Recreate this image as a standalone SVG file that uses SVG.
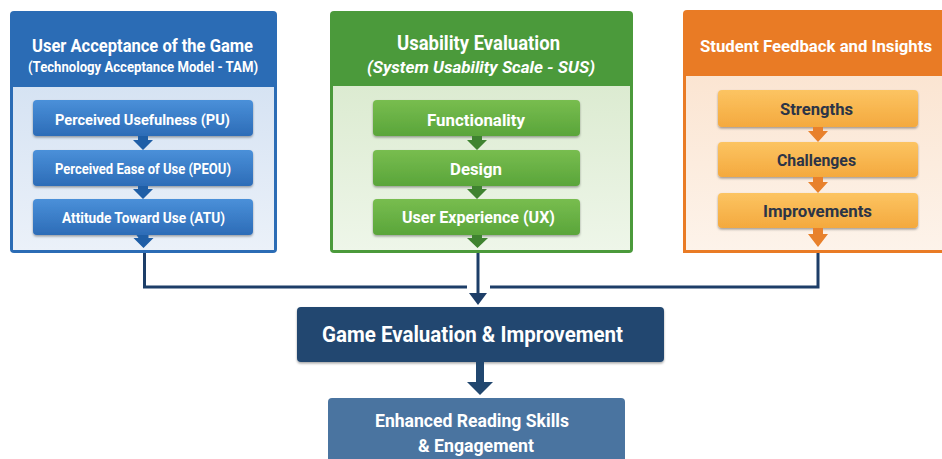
<svg xmlns="http://www.w3.org/2000/svg" width="942" height="459" viewBox="0 0 942 459">
  <defs>
    <linearGradient id="gBodyBlue" x1="0" y1="0" x2="0" y2="1">
      <stop offset="0" stop-color="#d6e3f3"/>
      <stop offset="1" stop-color="#ebf1f9"/>
    </linearGradient>
    <linearGradient id="gBodyGreen" x1="0" y1="0" x2="0" y2="1">
      <stop offset="0" stop-color="#dcebd1"/>
      <stop offset="1" stop-color="#eef6e9"/>
    </linearGradient>
    <linearGradient id="gBodyOrange" x1="0" y1="0" x2="0" y2="1">
      <stop offset="0" stop-color="#fbe5d2"/>
      <stop offset="1" stop-color="#fdf3ea"/>
    </linearGradient>
    <linearGradient id="gBoxBlue" x1="0" y1="0" x2="0" y2="1">
      <stop offset="0" stop-color="#4a90d9"/>
      <stop offset="1" stop-color="#2d6cb7"/>
    </linearGradient>
    <linearGradient id="gBoxGreen" x1="0" y1="0" x2="0" y2="1">
      <stop offset="0" stop-color="#78bd4f"/>
      <stop offset="1" stop-color="#5aa53a"/>
    </linearGradient>
    <linearGradient id="gBoxOrange" x1="0" y1="0" x2="0" y2="1">
      <stop offset="0" stop-color="#fcc462"/>
      <stop offset="1" stop-color="#f4a93e"/>
    </linearGradient>
    <filter id="shadow" x="-10%" y="-20%" width="120%" height="160%">
      <feDropShadow dx="0" dy="1.5" stdDeviation="1" flood-color="#000" flood-opacity="0.35"/>
    </filter>
  </defs>
  <style>
    text { font-family: "Liberation Sans Narrow", "Roboto", "Open Sans", sans-serif; font-weight: 700; text-anchor: middle; }
    .w { fill: #ffffff; }
    .dk { fill: #2b3447; }
    .box { filter: url(#shadow); }
    .conn { fill: none; stroke: #1d3e68; stroke-width: 3; }
  </style>

  <rect width="942" height="459" fill="#ffffff"/>

  <!-- Panel: Technology Acceptance Model -->
  <g id="panel-tam">
    <rect x="10" y="11" width="267" height="242" rx="4" fill="#2b6cb5"/>
    <rect x="13" y="87" width="261" height="163" fill="url(#gBodyBlue)"/>
    <text class="w" x="142.5" y="52" font-size="19" textLength="221" lengthAdjust="spacingAndGlyphs">User Acceptance of the Game</text>
    <text class="w" x="143" y="72" font-size="15" textLength="230" lengthAdjust="spacingAndGlyphs">(Technology Acceptance Model - TAM)</text>
  </g>
  <g id="tam-pu">
    <rect class="box" x="33" y="100" width="220" height="36" rx="4" fill="url(#gBoxBlue)"/>
    <text class="w" x="142.5" y="125" font-size="15.5" textLength="175" lengthAdjust="spacingAndGlyphs">Perceived Usefulness (PU)</text>
  </g>
  <g id="tam-peou">
    <rect class="box" x="33" y="150" width="220" height="36" rx="4" fill="url(#gBoxBlue)"/>
    <text class="w" x="143" y="174" font-size="15.5" textLength="176" lengthAdjust="spacingAndGlyphs">Perceived Ease of Use (PEOU)</text>
  </g>
  <g id="tam-atu">
    <rect class="box" x="33" y="199" width="220" height="36" rx="4" fill="url(#gBoxBlue)"/>
    <text class="w" x="143.5" y="223" font-size="15.5" textLength="163" lengthAdjust="spacingAndGlyphs">Attitude Toward Use (ATU)</text>
  </g>

  <!-- Panel: System Usability Scale -->
  <g id="panel-sus">
    <rect x="330" y="11" width="303" height="242" rx="4" fill="#4b9a3b"/>
    <rect x="333" y="86" width="297" height="164" fill="url(#gBodyGreen)"/>
    <text class="w" x="478.5" y="50" font-size="20" textLength="163" lengthAdjust="spacingAndGlyphs">Usability Evaluation</text>
    <text class="w" x="481" y="73" font-size="17" font-style="italic" textLength="228" lengthAdjust="spacingAndGlyphs">(System Usability Scale - SUS)</text>
  </g>
  <g id="sus-functionality">
    <rect class="box" x="373" y="100" width="207" height="36" rx="4" fill="url(#gBoxGreen)"/>
    <text class="w" x="476" y="126" font-size="17" textLength="98" lengthAdjust="spacingAndGlyphs">Functionality</text>
  </g>
  <g id="sus-design">
    <rect class="box" x="373" y="150" width="207" height="36" rx="4" fill="url(#gBoxGreen)"/>
    <text class="w" x="476" y="175" font-size="17" textLength="52" lengthAdjust="spacingAndGlyphs">Design</text>
  </g>
  <g id="sus-ux">
    <rect class="box" x="373" y="199" width="207" height="36" rx="4" fill="url(#gBoxGreen)"/>
    <text class="w" x="478.5" y="223" font-size="17" textLength="153" lengthAdjust="spacingAndGlyphs">User Experience (UX)</text>
  </g>

  <!-- Panel: Student feedback (runs to the right edge of the canvas) -->
  <g id="panel-feedback">
    <path d="M683 14 Q683 10 687 10 H942 V253 H683 Z" fill="#e97b25"/>
    <rect x="686" y="76" width="256" height="174" fill="url(#gBodyOrange)"/>
    <text class="w" x="816" y="52" font-size="17" textLength="232" lengthAdjust="spacingAndGlyphs">Student Feedback and Insights</text>
  </g>
  <g id="fb-strengths">
    <rect class="box" x="718" y="90" width="200" height="37" rx="4" fill="url(#gBoxOrange)"/>
    <text class="dk" x="816.5" y="115" font-size="17" textLength="73" lengthAdjust="spacingAndGlyphs">Strengths</text>
  </g>
  <g id="fb-challenges">
    <rect class="box" x="718" y="142" width="200" height="35" rx="4" fill="url(#gBoxOrange)"/>
    <text class="dk" x="816.5" y="166" font-size="17" textLength="79" lengthAdjust="spacingAndGlyphs">Challenges</text>
  </g>
  <g id="fb-improvements">
    <rect class="box" x="718" y="193" width="200" height="35" rx="4" fill="url(#gBoxOrange)"/>
    <text class="dk" x="817.5" y="217" font-size="17" textLength="109" lengthAdjust="spacingAndGlyphs">Improvements</text>
  </g>

  <!-- Outcome nodes -->
  <g id="game-evaluation">
    <rect class="box" x="297" y="307" width="367" height="55" rx="4" fill="#21476f"/>
    <text class="w" x="472.5" y="342" font-size="22" textLength="301" lengthAdjust="spacingAndGlyphs">Game Evaluation &amp; Improvement</text>
  </g>
  <g id="reading-skills">
    <rect x="328" y="398" width="297" height="70" rx="4" fill="#4a74a0"/>
    <text class="w" x="472" y="427" font-size="19" textLength="194" lengthAdjust="spacingAndGlyphs">Enhanced Reading Skills</text>
    <text class="w" x="476" y="452" font-size="19" textLength="116" lengthAdjust="spacingAndGlyphs">&amp; Engagement</text>
  </g>

  <!-- Connectors -->
  <g id="connectors">
    <!-- step arrows inside the panels -->
    <g fill="#1f5ea6">
      <path d="M138 136 H148 V140 H153 L143 150 L133 140 H138 Z"/>
      <path d="M138 186 H148 V189 H153 L143 199 L133 189 H138 Z"/>
      <path d="M138 235 H150 V238 H155 L145 248 L135 238 H140 Z" transform="translate(-1.5 0)"/>
    </g>
    <g fill="#3f8330">
      <path d="M472 136 H482 V140 H487 L477 150 L467 140 H472 Z"/>
      <path d="M472 186 H482 V189 H487 L477 199 L467 189 H472 Z"/>
      <path d="M472 235 H482 V238 H488 L477.5 248 L467 238 H472 Z"/>
    </g>
    <g fill="#e8812c">
      <path d="M813 127 H823 V131 H828 L818 142 L808 131 H813 Z"/>
      <path d="M813 177 H823 V182 H828 L818 193 L808 182 H813 Z"/>
      <path d="M813 228 H823 V234 H828 L818 247 L808 234 H813 Z"/>
    </g>
    <!-- panel outputs merging into the evaluation node -->
    <path class="conn" d="M144.5 253 V287 H467"/>
    <path class="conn" d="M818 253 V287 H490"/>
    <path class="conn" d="M478 253 V295"/>
    <polygon points="469,293 487,293 478,305" fill="#1d3e68"/>
    <!-- evaluation to outcome -->
    <rect x="476" y="362" width="8" height="22" fill="#21476f"/>
    <polygon points="467,382 493,382 480,395" fill="#21476f"/>
  </g>
</svg>
